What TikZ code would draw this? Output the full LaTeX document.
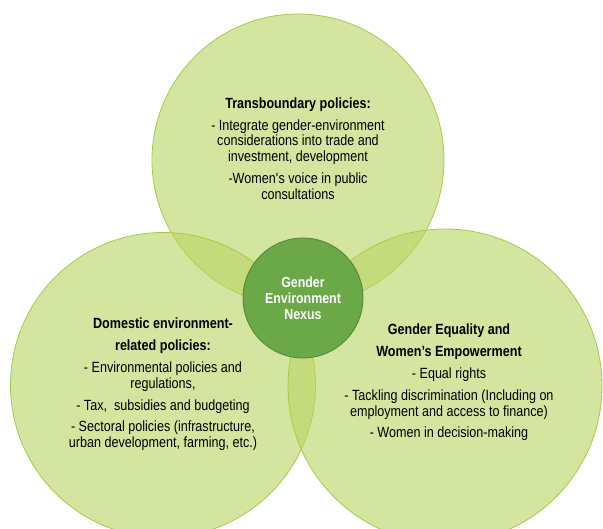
\documentclass[tikz,border=0pt]{standalone}
\usepackage{fontspec}
\setmainfont{Liberation Sans}[FakeStretch=0.85]
\usetikzlibrary{positioning}
\definecolor{leaf}{RGB}{184,212,96}
\definecolor{leafline}{RGB}{165,202,75}
\definecolor{hubgreen}{RGB}{106,168,72}
\definecolor{hubline}{RGB}{84,132,56}

\begin{document}
\begin{tikzpicture}[x=1pt, y=-1pt,
    policy/.style={circle, draw=leafline, fill=leaf, fill opacity=0.6, line width=0.8pt, inner sep=0pt},
    hub/.style={circle, draw=hubline, fill=hubgreen, line width=0.8pt, minimum size=120pt, inner sep=0pt, text=white, align=center, font=\fontsize{14.6}{16}\selectfont\bfseries},
    txt/.style={align=center, text=black, font=\fontsize{14.8}{15.8}\selectfont}
]
\useasboundingbox (0,0) rectangle (603,529);
\node[policy, minimum size=292pt] (trans) at (298,160) {};
\node[policy, minimum size=305pt] (domestic) at (163,385) {};
\node[policy, minimum size=314pt] (equality) at (445,386) {};
\node[hub] (nexus) at (303,298) {Gender\\Environment\\Nexus};

\node[txt] (transtxt) at (298,148.5) {\textbf{Transboundary policies:}\\[6pt]
    - Integrate gender-environment\\considerations into trade and\\investment, development\\[6pt]
    -Women{\textquotesingle}s voice in public\\consultations};
\node[txt] (domtxt) at (163,384.5) {\textbf{Domestic environment-}\\[6pt]\textbf{related policies:}\\[6pt]
    - Environmental policies and\\regulations,\\[6pt]
    - Tax,\ \ subsidies and budgeting\\[6pt]
    - Sectoral policies (infrastructure,\\urban development, farming, etc.)};
\node[txt] (eqtxt) at (449,382.5) {\textbf{Gender Equality and}\\[6pt]\textbf{Women’s Empowerment}\\[6pt]
    - Equal rights\\[6pt]
    - Tackling discrimination (Including on\\employment and access to finance)\\[6pt]
    - Women in decision-making};
\end{tikzpicture}
\end{document}
